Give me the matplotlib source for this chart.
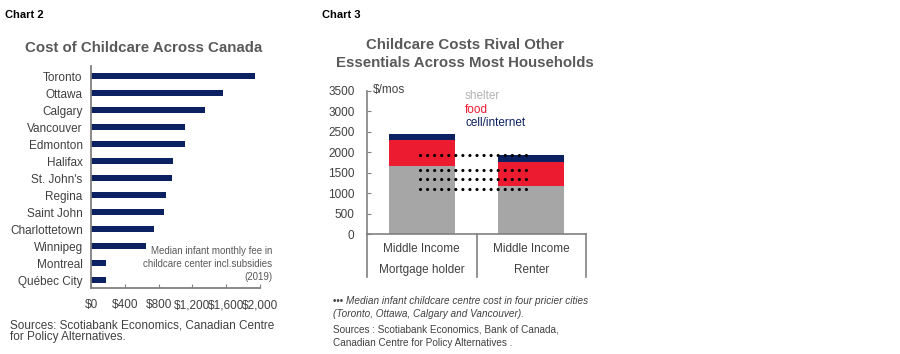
import matplotlib
matplotlib.use("Agg")
import matplotlib.pyplot as plt
import numpy as np

plt.rcParams['font.family'] = ['Liberation Sans', 'DejaVu Sans']

# ---- Chart 2 data ----
cities = ["Toronto", "Ottawa", "Calgary", "Vancouver", "Edmonton", "Halifax",
          "St. John's", "Regina", "Saint John", "Charlottetown", "Winnipeg",
          "Montreal", "Québec City"]
fees = [1944, 1558, 1349, 1116, 1116, 970, 958, 888, 864, 742, 651, 181, 181]
x_ticks2 = [0, 400, 800, 1200, 1600, 2000]
x_ticklabels2 = ["$0", "$400", "$800", "$1,200", "$1,600", "$2,000"]

# ---- Chart 3 data ----
households = ["Middle Income\nMortgage holder", "Middle Income\nRenter"]
shelter = [1670, 1175]
food = [630, 595]
cell = [150, 155]
childcare_four_cities = [1944, 1558, 1349, 1116]
y_ticks3 = [0, 500, 1000, 1500, 2000, 2500, 3000, 3500]

NAVY = "#0c2161"
RED = "#ed1b2f"
GRAY = "#a6a6a6"
TXT = "#404040"
TITLE = "#595959"
AX = "#808080"

W, H = 900, 354
fig = plt.figure(figsize=(9, 3.54), dpi=100)


def fx(x):
    return x / W


def fy(y):
    return 1 - y / H


# ================= Chart 2 =================
fig.text(fx(5), fy(15), "Chart 2", fontsize=8, fontweight="bold", color="black",
         ha="left", va="center")
fig.text(fx(144), fy(48), "Cost of Childcare Across Canada", fontsize=10.8,
         fontweight="bold", color=TITLE, ha="center", va="center")

ax1 = fig.add_axes([fx(91), fy(288), (260 - 91) / W, (288 - 66) / H])
pos = np.arange(len(cities))
ax1.barh(pos, fees, height=0.4, color=NAVY)
ax1.set_ylim(12.47, -0.59)
ax1.set_xlim(0, 2000)
ax1.set_yticks(pos)
ax1.set_yticklabels(cities, fontsize=8.5, color=TXT)
ax1.set_xticks(x_ticks2)
ax1.set_xticklabels(x_ticklabels2, fontsize=8.5, color=TXT)
ax1.tick_params(axis="y", length=0, pad=6)
ax1.tick_params(axis="x", direction="in", length=3, color=AX, pad=8)
for s in ["top", "right"]:
    ax1.spines[s].set_visible(False)
for s in ["left", "bottom"]:
    ax1.spines[s].set_color(AX)
    ax1.spines[s].set_linewidth(1.3)

fig.text(fx(272.5), fy(251), "Median infant monthly fee in", fontsize=7,
         color=TITLE, ha="right", va="center")
fig.text(fx(272.5), fy(264), "childcare center incl.subsidies", fontsize=7,
         color=TITLE, ha="right", va="center")
fig.text(fx(272.5), fy(277), "(2019)", fontsize=7,
         color=TITLE, ha="right", va="center")

fig.text(fx(10), fy(325), "Sources: Scotiabank Economics, Canadian Centre",
         fontsize=8.5, color=TXT, ha="left", va="center")
fig.text(fx(10), fy(337), "for Policy Alternatives.",
         fontsize=8.5, color=TXT, ha="left", va="center")

# ================= Chart 3 =================
fig.text(fx(322), fy(15), "Chart 3", fontsize=8, fontweight="bold", color="black",
         ha="left", va="center")
fig.text(fx(465), fy(45), "Childcare Costs Rival Other", fontsize=10.8,
         fontweight="bold", color=TITLE, ha="center", va="center")
fig.text(fx(465), fy(63), "Essentials Across Most Households", fontsize=10.8,
         fontweight="bold", color=TITLE, ha="center", va="center")

ax2 = fig.add_axes([fx(367), fy(234.3), (586 - 367) / W, (234.3 - 90.7) / H])
xc = np.arange(len(households)) + 0.5
sh = np.array(shelter)
fd = np.array(food)
cl = np.array(cell)
ax2.bar(xc, sh, width=0.605, color=GRAY)
ax2.bar(xc, fd, width=0.605, bottom=sh, color=RED)
ax2.bar(xc, cl, width=0.605, bottom=sh + fd, color=NAVY)
ax2.set_xlim(0, 2)
ax2.set_ylim(0, 3500)
ax2.set_yticks(y_ticks3)
ax2.set_yticklabels([str(v) for v in y_ticks3], fontsize=8.5, color=TXT)
ax2.tick_params(axis="y", direction="in", length=3, color=AX, pad=9)
ax2.set_xticks([])
for s in ["top", "right"]:
    ax2.spines[s].set_visible(False)
for s in ["left", "bottom"]:
    ax2.spines[s].set_color(AX)
    ax2.spines[s].set_linewidth(1.2)

for v in childcare_four_cities:
    ax2.plot([0.484, 1.48], [v, v], color="black", lw=2.3,
             linestyle=(0, (0.01, 2.2)), dash_capstyle="round", zorder=5)

xt = ax2.get_xaxis_transform()
for b in [0, 1, 2]:
    ax2.plot([b, b], [0, -0.297], transform=xt, color=AX, lw=1.2, clip_on=False)
for i, lab in enumerate(households):
    l1, l2 = lab.split("\n")
    ax2.text(xc[i], -0.102, l1, transform=xt, fontsize=8.5, color=TXT,
             ha="center", va="center")
    ax2.text(xc[i], -0.249, l2, transform=xt, fontsize=8.5, color=TXT,
             ha="center", va="center")

fig.text(fx(373), fy(90), "$/mos", fontsize=8.5, color=TXT, ha="left", va="center")
fig.text(fx(465), fy(96), "shelter", fontsize=8.5, color="#b3b3b3", ha="left", va="center")
fig.text(fx(465), fy(110), "food", fontsize=8.5, color=RED, ha="left", va="center")
fig.text(fx(465), fy(123.5), "cell/internet", fontsize=8.5, color=NAVY, ha="left", va="center")

fig.text(fx(333), fy(301), "••• ", fontsize=7, color=TXT, ha="left", va="center")
fig.text(fx(346), fy(301), "Median infant childcare centre cost in four pricier cities",
         fontsize=7.2, style="italic", color=TXT, ha="left", va="center")
fig.text(fx(333), fy(314), "(Toronto, Ottawa, Calgary and Vancouver).",
         fontsize=7.2, style="italic", color=TXT, ha="left", va="center")
fig.text(fx(333), fy(330), "Sources : Scotiabank Economics, Bank of Canada,",
         fontsize=7.2, color=TXT, ha="left", va="center")
fig.text(fx(333), fy(342.5), "Canadian Centre for Policy Alternatives .",
         fontsize=7.2, color=TXT, ha="left", va="center")

fig.savefig("out.png", dpi=100)
